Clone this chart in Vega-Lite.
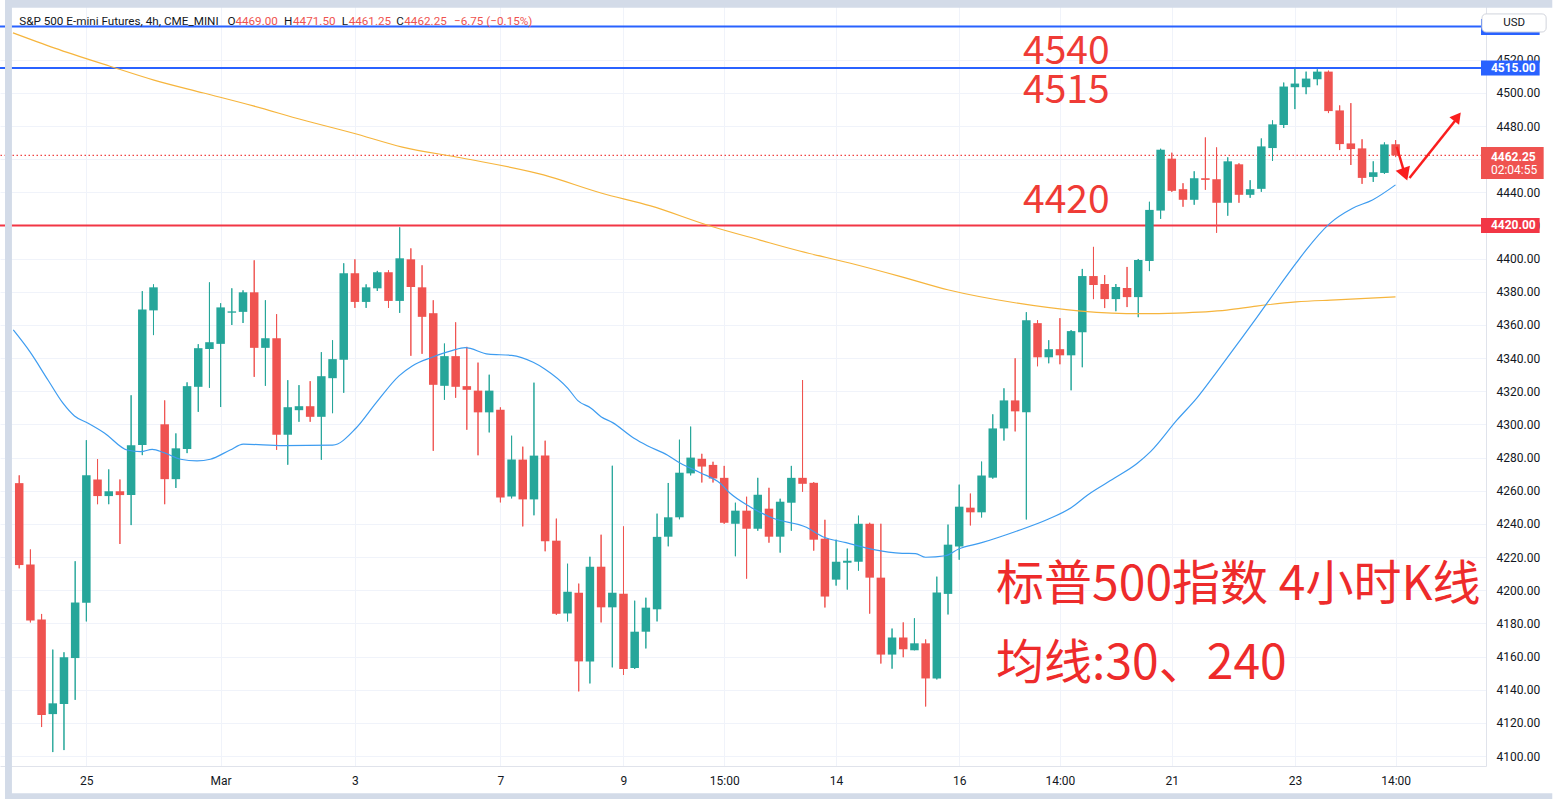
{
 "$schema": "https://vega.github.io/schema/vega-lite/v6.json",
 "width": 1486, "height": 766, "autosize": "none", "padding": {"left": 0, "top": 0, "right": 70, "bottom": 33},
 "background": "#ffffff",
 "config": {"view": {"stroke": null}},
 "data": {"values": [{}]},
 "resolve": {"axis": {"x": "independent", "y": "independent"}},
 "datasets": {
  "candles": [
   {"i":0,"o":4264.6,"h":4269.3,"l":4213.2,"c":4215.2},{"i":1,"o":4215.6,"h":4224.6,"l":4180.6,"c":4181.8},{"i":2,"o":4182.4,"h":4185.7,"l":4117.5,"c":4124.7},{"i":3,"o":4125.3,"h":4164.2,"l":4102.4,"c":4131.8},{"i":4,"o":4131.4,"h":4162.6,"l":4103.6,"c":4159.6},{"i":5,"o":4159.1,"h":4217.5,"l":4133.9,"c":4192.6},{"i":6,"o":4192.4,"h":4290.5,"l":4181.2,"c":4269.3},{"i":7,"o":4266.8,"h":4279.1,"l":4251.9,"c":4256.8},{"i":8,"o":4256.8,"h":4272.9,"l":4251.9,"c":4259.7},{"i":9,"o":4259.7,"h":4266.8,"l":4227.9,"c":4257.4},
   {"i":10,"o":4257.4,"h":4317.6,"l":4239.3,"c":4287.4},{"i":11,"o":4287.6,"h":4380.4,"l":4281.5,"c":4369.4},{"i":12,"o":4368.8,"h":4384.5,"l":4353.9,"c":4382.7},{"i":13,"o":4300.1,"h":4314.5,"l":4251.9,"c":4267.0},{"i":14,"o":4267.0,"h":4294.6,"l":4261.7,"c":4285.6},{"i":15,"o":4285.2,"h":4325.4,"l":4282.7,"c":4323.1},{"i":16,"o":4322.7,"h":4348.4,"l":4307.6,"c":4346.0},{"i":17,"o":4345.5,"h":4385.7,"l":4322.1,"c":4349.6},{"i":18,"o":4348.6,"h":4373.1,"l":4310.5,"c":4370.6},{"i":19,"o":4367.4,"h":4382.1,"l":4360.0,"c":4368.2},
   {"i":20,"o":4367.9,"h":4380.9,"l":4361.2,"c":4379.7},{"i":21,"o":4379.7,"h":4399.0,"l":4328.7,"c":4346.2},{"i":22,"o":4346.2,"h":4374.9,"l":4323.3,"c":4352.0},{"i":23,"o":4352.0,"h":4366.5,"l":4284.7,"c":4293.8},{"i":24,"o":4293.8,"h":4326.7,"l":4275.7,"c":4310.4},{"i":25,"o":4308.6,"h":4323.7,"l":4301.6,"c":4311.0},{"i":26,"o":4311.0,"h":4326.1,"l":4301.6,"c":4304.6},{"i":27,"o":4304.6,"h":4343.6,"l":4278.7,"c":4329.1},{"i":28,"o":4327.9,"h":4350.8,"l":4306.8,"c":4339.4},{"i":29,"o":4339.0,"h":4397.2,"l":4319.1,"c":4391.2},
   {"i":30,"o":4391.2,"h":4399.6,"l":4370.3,"c":4373.9},{"i":31,"o":4373.9,"h":4384.5,"l":4370.3,"c":4382.7},{"i":32,"o":4382.1,"h":4392.6,"l":4380.5,"c":4391.8},{"i":33,"o":4391.8,"h":4393.0,"l":4370.3,"c":4374.5},{"i":34,"o":4374.5,"h":4418.9,"l":4367.3,"c":4400.2},{"i":35,"o":4399.6,"h":4406.2,"l":4341.4,"c":4382.9},{"i":36,"o":4382.7,"h":4396.0,"l":4342.6,"c":4364.9},{"i":37,"o":4367.1,"h":4374.9,"l":4284.1,"c":4323.9},{"i":38,"o":4323.3,"h":4348.8,"l":4314.9,"c":4341.2},{"i":39,"o":4341.2,"h":4361.6,"l":4316.1,"c":4322.7},
   {"i":40,"o":4323.1,"h":4346.8,"l":4296.8,"c":4320.9},{"i":41,"o":4320.4,"h":4337.3,"l":4281.4,"c":4307.3},{"i":42,"o":4307.3,"h":4330.0,"l":4295.2,"c":4320.4},{"i":43,"o":4308.9,"h":4310.3,"l":4253.0,"c":4256.0},{"i":44,"o":4256.6,"h":4293.2,"l":4255.4,"c":4278.8},{"i":45,"o":4278.8,"h":4286.6,"l":4238.5,"c":4254.8},{"i":46,"o":4254.8,"h":4325.2,"l":4245.2,"c":4281.2},{"i":47,"o":4281.2,"h":4290.2,"l":4223.5,"c":4229.5},{"i":48,"o":4229.9,"h":4243.2,"l":4185.2,"c":4185.8},{"i":49,"o":4186.0,"h":4216.0,"l":4181.2,"c":4199.1},
   {"i":50,"o":4198.5,"h":4204.0,"l":4139.0,"c":4157.1},{"i":51,"o":4157.1,"h":4220.2,"l":4143.8,"c":4214.2},{"i":52,"o":4214.2,"h":4233.5,"l":4180.6,"c":4189.7},{"i":53,"o":4189.7,"h":4275.1,"l":4153.5,"c":4198.5},{"i":54,"o":4197.9,"h":4238.5,"l":4148.9,"c":4152.5},{"i":55,"o":4153.1,"h":4193.7,"l":4152.5,"c":4175.0},{"i":56,"o":4175.0,"h":4195.5,"l":4164.9,"c":4189.5},{"i":57,"o":4188.5,"h":4246.2,"l":4181.2,"c":4232.2},{"i":58,"o":4232.3,"h":4264.7,"l":4226.5,"c":4244.0},{"i":59,"o":4244.0,"h":4290.8,"l":4242.8,"c":4270.9},
   {"i":60,"o":4270.5,"h":4298.7,"l":4269.3,"c":4280.0},{"i":61,"o":4279.3,"h":4282.3,"l":4265.0,"c":4274.6},{"i":62,"o":4275.6,"h":4277.5,"l":4265.0,"c":4267.4},{"i":63,"o":4267.8,"h":4275.0,"l":4240.1,"c":4240.7},{"i":64,"o":4240.1,"h":4252.8,"l":4220.5,"c":4248.0},{"i":65,"o":4248.0,"h":4256.4,"l":4207.0,"c":4237.1},{"i":66,"o":4237.1,"h":4267.8,"l":4235.9,"c":4257.6},{"i":67,"o":4249.2,"h":4261.8,"l":4228.7,"c":4232.3},{"i":68,"o":4232.3,"h":4255.2,"l":4222.7,"c":4253.4},{"i":69,"o":4252.8,"h":4275.0,"l":4235.9,"c":4267.8},
   {"i":70,"o":4267.8,"h":4326.8,"l":4259.4,"c":4264.2},{"i":71,"o":4264.8,"h":4265.2,"l":4223.9,"c":4230.5},{"i":72,"o":4231.1,"h":4242.5,"l":4189.6,"c":4196.2},{"i":73,"o":4206.4,"h":4230.5,"l":4202.8,"c":4217.2},{"i":74,"o":4216.6,"h":4225.1,"l":4200.4,"c":4217.8},{"i":75,"o":4217.2,"h":4245.0,"l":4211.8,"c":4240.1},{"i":76,"o":4240.1,"h":4240.7,"l":4185.9,"c":4207.6},{"i":77,"o":4207.6,"h":4240.1,"l":4155.8,"c":4161.2},{"i":78,"o":4161.2,"h":4176.9,"l":4152.7,"c":4171.5},{"i":79,"o":4171.5,"h":4180.6,"l":4159.6,"c":4164.4},
   {"i":80,"o":4163.8,"h":4183.1,"l":4163.8,"c":4168.0},{"i":81,"o":4168.0,"h":4170.3,"l":4129.9,"c":4146.8},{"i":82,"o":4146.8,"h":4208.2,"l":4146.2,"c":4198.6},{"i":83,"o":4197.8,"h":4239.6,"l":4185.4,"c":4227.5},{"i":84,"o":4226.4,"h":4263.7,"l":4218.4,"c":4250.4},{"i":85,"o":4249.8,"h":4258.3,"l":4239.1,"c":4247.0},{"i":86,"o":4247.0,"h":4277.6,"l":4243.9,"c":4269.2},{"i":87,"o":4267.9,"h":4306.1,"l":4267.3,"c":4297.6},{"i":88,"o":4297.6,"h":4321.8,"l":4290.3,"c":4314.5},{"i":89,"o":4314.5,"h":4339.9,"l":4295.8,"c":4307.9},
   {"i":90,"o":4307.3,"h":4367.7,"l":4242.7,"c":4362.9},{"i":91,"o":4361.1,"h":4362.9,"l":4335.1,"c":4340.5},{"i":92,"o":4340.5,"h":4350.8,"l":4336.9,"c":4345.4},{"i":93,"o":4345.4,"h":4364.1,"l":4336.3,"c":4341.7},{"i":94,"o":4341.7,"h":4356.9,"l":4320.6,"c":4356.3},{"i":95,"o":4355.6,"h":4393.8,"l":4334.5,"c":4389.5},{"i":96,"o":4389.5,"h":4407.1,"l":4375.6,"c":4384.1},{"i":97,"o":4384.7,"h":4390.1,"l":4370.2,"c":4375.6},{"i":98,"o":4375.6,"h":4384.7,"l":4368.3,"c":4382.9},{"i":99,"o":4382.3,"h":4395.0,"l":4370.8,"c":4376.8},
   {"i":100,"o":4376.8,"h":4399.8,"l":4364.7,"c":4399.2},{"i":101,"o":4398.6,"h":4434.3,"l":4392.5,"c":4429.4},{"i":102,"o":4429.0,"h":4466.3,"l":4424.0,"c":4465.7},{"i":103,"o":4460.3,"h":4463.9,"l":4440.3,"c":4440.9},{"i":104,"o":4441.9,"h":4445.5,"l":4431.3,"c":4435.5},{"i":105,"o":4435.5,"h":4452.7,"l":4432.5,"c":4448.5},{"i":106,"o":4448.5,"h":4473.1,"l":4441.5,"c":4447.5},{"i":107,"o":4447.9,"h":4467.1,"l":4415.6,"c":4433.7},{"i":108,"o":4433.7,"h":4461.1,"l":4425.9,"c":4458.7},{"i":109,"o":4456.9,"h":4457.5,"l":4433.7,"c":4438.5},
   {"i":110,"o":4438.5,"h":4447.3,"l":4436.7,"c":4441.9},{"i":111,"o":4442.1,"h":4472.5,"l":4440.3,"c":4467.7},{"i":112,"o":4466.7,"h":4483.4,"l":4458.9,"c":4481.0},{"i":113,"o":4480.6,"h":4506.2,"l":4478.8,"c":4503.8},{"i":114,"o":4503.4,"h":4514.6,"l":4490.2,"c":4505.6},{"i":115,"o":4503.4,"h":4512.8,"l":4499.2,"c":4508.6},{"i":116,"o":4508.2,"h":4514.2,"l":4504.6,"c":4512.8},{"i":117,"o":4512.8,"h":4513.4,"l":4487.8,"c":4489.0},{"i":118,"o":4489.4,"h":4492.4,"l":4465.5,"c":4469.1},{"i":119,"o":4469.5,"h":4493.8,"l":4456.5,"c":4466.1},
   {"i":120,"o":4466.5,"h":4472.0,"l":4445.1,"c":4448.7},{"i":121,"o":4449.3,"h":4458.7,"l":4446.3,"c":4452.1},{"i":122,"o":4451.7,"h":4470.1,"l":4451.1,"c":4468.9},{"i":123,"o":4469.0,"h":4471.5,"l":4461.25,"c":4462.25}
  ],
  "ma30": [
   {"i":-0.53,"v":4357.0},{"i":0.95,"v":4343.9},{"i":2.57,"v":4326.8},{"i":3.91,"v":4312.8},{"i":4.94,"v":4305.1},{"i":6.12,"v":4300.9},{"i":7.61,"v":4294.9},{"i":9.65,"v":4284.6},{"i":10.86,"v":4283.6},{"i":11.89,"v":4285.0},{"i":12.93,"v":4283.0},{"i":14.42,"v":4279.0},{"i":15.89,"v":4278.0},{"i":17.08,"v":4279.0},{"i":18.85,"v":4284.6},{"i":20.03,"v":4288.1},{"i":23.58,"v":4287.2},{"i":28.02,"v":4287.5},{"i":30.09,"v":4297.7},{"i":31.87,"v":4312.8},{"i":33.94,"v":4329.3},{"i":35.12,"v":4335.3},{"i":36.9,"v":4340.5},{"i":38.67,"v":4344.5},{"i":39.85,"v":4346.3},{"i":41.93,"v":4342.4},{"i":44.0,"v":4341.7},{"i":45.93,"v":4337.5},{"i":46.96,"v":4333.5},{"i":49.03,"v":4321.8},{"i":49.92,"v":4314.4},{"i":51.1,"v":4309.8},{"i":51.99,"v":4304.7},{"i":53.03,"v":4301.1},{"i":54.94,"v":4291.7},{"i":56.13,"v":4287.2},{"i":57.91,"v":4281.6},{"i":59.09,"v":4276.6},{"i":60.86,"v":4270.9},{"i":62.64,"v":4264.5},{"i":63.53,"v":4258.5},{"i":65.3,"v":4250.4},{"i":67.37,"v":4243.4},{"i":70.34,"v":4238.0},{"i":71.81,"v":4232.3},{"i":73.89,"v":4228.7},{"i":76.25,"v":4224.7},{"i":78.91,"v":4222.3},{"i":80.1,"v":4222.1},{"i":81.0,"v":4219.9},{"i":82.77,"v":4220.8},{"i":83.95,"v":4224.9},{"i":86.01,"v":4228.7},{"i":88.98,"v":4235.3},{"i":91.93,"v":4242.8},{"i":94.0,"v":4249.8},{"i":95.48,"v":4257.5},{"i":97.85,"v":4267.5},{"i":99.92,"v":4276.6},{"i":101.1,"v":4283.6},{"i":103.47,"v":4302.7},{"i":105.25,"v":4316.0},{"i":107.02,"v":4331.7},{"i":108.8,"v":4348.0},{"i":110.57,"v":4364.3},{"i":112.35,"v":4381.1},{"i":114.12,"v":4397.4},{"i":115.01,"v":4405.3},{"i":117.08,"v":4421.0},{"i":119.16,"v":4430.4},{"i":120.93,"v":4435.4},{"i":122.99,"v":4444.5}
  ],
  "ma240": [
   {"i":-0.56,"v":4536.2},{"i":3.17,"v":4527.0},{"i":8.05,"v":4516.2},{"i":12.04,"v":4507.7},{"i":16.48,"v":4499.9},{"i":20.92,"v":4492.1},{"i":25.36,"v":4483.6},{"i":29.8,"v":4475.8},{"i":34.24,"v":4467.3},{"i":39.56,"v":4460.7},{"i":46.86,"v":4450.5},{"i":51.99,"v":4439.6},{"i":56.43,"v":4431.8},{"i":61.75,"v":4419.7},{"i":66.19,"v":4411.2},{"i":69.74,"v":4404.6},{"i":74.2,"v":4397.4},{"i":78.62,"v":4389.5},{"i":83.06,"v":4381.1},{"i":88.98,"v":4373.4},{"i":94.88,"v":4368.4},{"i":100.2,"v":4366.8},{"i":103.47,"v":4367.2},{"i":107.91,"v":4369.0},{"i":110.57,"v":4371.4},{"i":114.12,"v":4373.9},{"i":117.67,"v":4375.1},{"i":122.99,"v":4376.9}
  ]
 },
 "layer": [
  {
   "data": {"name": "candles"},
   "mark": {"type": "rule", "strokeWidth": 1},
   "encoding": {
    "x": {"field": "i", "type": "quantitative", "title": null, "scale": {"domain": [-1.27, 130.63], "nice": false, "zero": false},
     "axis": {"orient": "bottom", "title": null, "values": [6, 18, 30, 43, 54, 63, 73, 84, 93, 103, 114, 123],
      "labelExpr": "datum.value==6?'25':datum.value==18?'Mar':datum.value==30?'3':datum.value==43?'7':datum.value==54?'9':datum.value==63?'15:00':datum.value==73?'14':datum.value==84?'16':datum.value==93?'14:00':datum.value==103?'21':datum.value==114?'23':'14:00'",
      "grid": true, "gridColor": "#f0f3fa", "gridWidth": 1, "ticks": false, "domain": true, "domainColor": "#e0e3eb", "labelPadding": 9, "labelFont": "Roboto", "labelFontSize": 12, "labelColor": "#131722", "labelFlush": false, "labelOverlap": false}},
    "y": {"field": "l", "type": "quantitative", "title": null, "scale": {"domain": [4094, 4556], "nice": false, "zero": false},
     "axis": {"orient": "right", "title": null, "values": [4100, 4120, 4140, 4160, 4180, 4200, 4220, 4240, 4260, 4280, 4300, 4320, 4340, 4360, 4380, 4400, 4420, 4440, 4460, 4480, 4500, 4520],
      "format": ".2f", "grid": true, "gridColor": "#f0f3fa", "gridWidth": 1, "ticks": false, "domain": true, "domainColor": "#e0e3eb", "labelPadding": 10, "labelFont": "Roboto", "labelFontSize": 12, "labelColor": "#131722", "labelFlush": false, "labelOverlap": false}},
    "y2": {"field": "h"},
    "color": {"condition": {"test": "datum.c >= datum.o", "value": "#26a69a"}, "value": "#ef5350"}
   }
  },
  {"mark": {"type": "rule", "color": "#2962ff", "strokeWidth": 2}, "encoding": {"y": {"datum": 4540, "type": "quantitative", "axis": null}}},
  {"mark": {"type": "rule", "color": "#2962ff", "strokeWidth": 2}, "encoding": {"y": {"datum": 4515, "type": "quantitative", "axis": null}}},
  {"mark": {"type": "rule", "color": "#f23645", "strokeWidth": 2}, "encoding": {"y": {"datum": 4420, "type": "quantitative", "axis": null}}},
  {"mark": {"type": "rule", "color": "#ef4444", "strokeWidth": 1.3, "strokeDash": [1.5, 2.5]}, "encoding": {"y": {"datum": 4462.25, "type": "quantitative", "axis": null}}},
  {
   "data": {"name": "candles"},
   "mark": {"type": "rule", "strokeWidth": 1},
   "encoding": {
    "x": {"field": "i", "type": "quantitative", "axis": null},
    "y": {"field": "l", "type": "quantitative", "axis": null},
    "y2": {"field": "h"},
    "color": {"condition": {"test": "datum.c >= datum.o", "value": "#26a69a"}, "value": "#ef5350"}
   }
  },
  {
   "data": {"name": "candles"},
   "mark": {"type": "bar", "size": 8.5},
   "encoding": {
    "x": {"field": "i", "type": "quantitative", "axis": null},
    "y": {"field": "o", "type": "quantitative", "axis": null},
    "y2": {"field": "c"},
    "color": {"condition": {"test": "datum.c >= datum.o", "value": "#26a69a"}, "value": "#ef5350"}
   }
  },
  {"data": {"name": "ma240"}, "mark": {"type": "line", "color": "#f6b53d", "strokeWidth": 1.2, "interpolate": "monotone"}, "encoding": {"x": {"field": "i", "type": "quantitative", "axis": null}, "y": {"field": "v", "type": "quantitative", "axis": null}}},
  {"data": {"name": "ma30"}, "mark": {"type": "line", "color": "#3d9cf0", "strokeWidth": 1.2, "interpolate": "monotone"}, "encoding": {"x": {"field": "i", "type": "quantitative", "axis": null}, "y": {"field": "v", "type": "quantitative", "axis": null}}},

  {"mark": {"type": "text", "text": "4540", "align": "left", "baseline": "alphabetic", "font": "Noto Sans CJK SC", "fontSize": 39, "color": "#ef3b36"}, "encoding": {"x": {"datum": 89.7, "type": "quantitative", "axis": null}, "y": {"datum": 4517.2, "type": "quantitative", "axis": null}}},
  {"mark": {"type": "text", "text": "4515", "align": "left", "baseline": "alphabetic", "font": "Noto Sans CJK SC", "fontSize": 39, "color": "#ef3b36"}, "encoding": {"x": {"datum": 89.7, "type": "quantitative", "axis": null}, "y": {"datum": 4494.1, "type": "quantitative", "axis": null}}},
  {"mark": {"type": "text", "text": "4420", "align": "left", "baseline": "alphabetic", "font": "Noto Sans CJK SC", "fontSize": 39, "color": "#ef3b36"}, "encoding": {"x": {"datum": 89.7, "type": "quantitative", "axis": null}, "y": {"datum": 4427.7, "type": "quantitative", "axis": null}}},
  {"mark": {"type": "text", "text": "标普500指数 4小时K线", "align": "left", "baseline": "alphabetic", "font": "Noto Sans CJK SC", "fontSize": 48, "color": "#ee2b2b"}, "encoding": {"x": {"datum": 87.3, "type": "quantitative", "axis": null}, "y": {"datum": 4194.1, "type": "quantitative", "axis": null}}},
  {"mark": {"type": "text", "text": "均线:30、240", "align": "left", "baseline": "alphabetic", "font": "Noto Sans CJK SC", "fontSize": 48, "color": "#ee2b2b"}, "encoding": {"x": {"datum": 87.3, "type": "quantitative", "axis": null}, "y": {"datum": 4146.5, "type": "quantitative", "axis": null}}},

  {"mark": {"type": "text", "text": "S&P 500 E-mini Futures, 4h, CME_MINI", "align": "left", "baseline": "alphabetic", "font": "Roboto", "fontSize": 11.7, "color": "#131722"}, "encoding": {"x": {"datum": 0.0, "type": "quantitative", "axis": null}, "y": {"datum": 4541.2, "type": "quantitative", "axis": null}}},
  {"mark": {"type": "text", "text": "O", "align": "left", "baseline": "alphabetic", "font": "Roboto", "fontSize": 11.7, "color": "#131722"}, "encoding": {"x": {"datum": 18.61, "type": "quantitative", "axis": null}, "y": {"datum": 4541.2, "type": "quantitative", "axis": null}}},
  {"mark": {"type": "text", "text": "4469.00", "align": "left", "baseline": "alphabetic", "font": "Roboto", "fontSize": 11.7, "color": "#ef5350"}, "encoding": {"x": {"datum": 19.32, "type": "quantitative", "axis": null}, "y": {"datum": 4541.2, "type": "quantitative", "axis": null}}},
  {"mark": {"type": "text", "text": "H", "align": "left", "baseline": "alphabetic", "font": "Roboto", "fontSize": 11.7, "color": "#131722"}, "encoding": {"x": {"datum": 23.67, "type": "quantitative", "axis": null}, "y": {"datum": 4541.2, "type": "quantitative", "axis": null}}},
  {"mark": {"type": "text", "text": "4471.50", "align": "left", "baseline": "alphabetic", "font": "Roboto", "fontSize": 11.7, "color": "#ef5350"}, "encoding": {"x": {"datum": 24.47, "type": "quantitative", "axis": null}, "y": {"datum": 4541.2, "type": "quantitative", "axis": null}}},
  {"mark": {"type": "text", "text": "L", "align": "left", "baseline": "alphabetic", "font": "Roboto", "fontSize": 11.7, "color": "#131722"}, "encoding": {"x": {"datum": 28.82, "type": "quantitative", "axis": null}, "y": {"datum": 4541.2, "type": "quantitative", "axis": null}}},
  {"mark": {"type": "text", "text": "4461.25", "align": "left", "baseline": "alphabetic", "font": "Roboto", "fontSize": 11.7, "color": "#ef5350"}, "encoding": {"x": {"datum": 29.44, "type": "quantitative", "axis": null}, "y": {"datum": 4541.2, "type": "quantitative", "axis": null}}},
  {"mark": {"type": "text", "text": "C", "align": "left", "baseline": "alphabetic", "font": "Roboto", "fontSize": 11.7, "color": "#131722"}, "encoding": {"x": {"datum": 33.7, "type": "quantitative", "axis": null}, "y": {"datum": 4541.2, "type": "quantitative", "axis": null}}},
  {"mark": {"type": "text", "text": "4462.25", "align": "left", "baseline": "alphabetic", "font": "Roboto", "fontSize": 11.7, "color": "#ef5350"}, "encoding": {"x": {"datum": 34.41, "type": "quantitative", "axis": null}, "y": {"datum": 4541.2, "type": "quantitative", "axis": null}}},
  {"mark": {"type": "text", "text": "−6.75 (−0.15%)", "align": "left", "baseline": "alphabetic", "font": "Roboto", "fontSize": 11.7, "color": "#ef5350"}, "encoding": {"x": {"datum": 38.85, "type": "quantitative", "axis": null}, "y": {"datum": 4541.2, "type": "quantitative", "axis": null}}},

  {"mark": {"type": "rule", "color": "#fa1e1e", "strokeWidth": 2.5}, "encoding": {"x": {"datum": 124.24, "type": "quantitative", "axis": null}, "y": {"datum": 4448.6, "type": "quantitative", "axis": null}, "x2": {"datum": 128.6}, "y2": {"datum": 4485.6}}},
  {"mark": {"type": "point", "shape": "triangle-up", "filled": true, "color": "#fa1e1e", "opacity": 1, "size": 150, "angle": 38}, "encoding": {"x": {"datum": 128.53, "type": "quantitative", "axis": null}, "y": {"datum": 4485.6, "type": "quantitative", "axis": null}}},
  {"mark": {"type": "rule", "color": "#fa1e1e", "strokeWidth": 2.5}, "encoding": {"x": {"datum": 123.1, "type": "quantitative", "axis": null}, "y": {"datum": 4467.5, "type": "quantitative", "axis": null}, "x2": {"datum": 123.75}, "y2": {"datum": 4452.5}}},
  {"mark": {"type": "point", "shape": "triangle-up", "filled": true, "color": "#fa1e1e", "opacity": 1, "size": 230, "angle": 160}, "encoding": {"x": {"datum": 123.84, "type": "quantitative", "axis": null}, "y": {"datum": 4450.8, "type": "quantitative", "axis": null}}},

  {"mark": {"type": "rect", "color": "#2962ff"}, "encoding": {"x": {"datum": 130.63, "type": "quantitative", "axis": null}, "x2": {"datum": 135.87}, "y": {"datum": 4544.5, "type": "quantitative", "axis": null}, "y2": {"datum": 4534.9}}},
  {"mark": {"type": "rect", "fill": "#ffffff", "stroke": "#d1d4dc", "strokeWidth": 1, "cornerRadius": 4}, "encoding": {"x": {"datum": 130.72, "type": "quantitative", "axis": null}, "x2": {"datum": 136.45}, "y": {"datum": 4547.6, "type": "quantitative", "axis": null}, "y2": {"datum": 4536.7}}},
  {"mark": {"type": "text", "text": "USD", "align": "center", "baseline": "middle", "font": "Roboto", "fontSize": 11.5, "color": "#131722"}, "encoding": {"x": {"datum": 133.6, "type": "quantitative", "axis": null}, "y": {"datum": 4542.1, "type": "quantitative", "axis": null}}},
  {"mark": {"type": "rect", "color": "#2962ff"}, "encoding": {"x": {"datum": 130.63, "type": "quantitative", "axis": null}, "x2": {"datum": 135.87}, "y": {"datum": 4519.5, "type": "quantitative", "axis": null}, "y2": {"datum": 4510.5}}},
  {"mark": {"type": "text", "text": "4515.00", "align": "left", "baseline": "middle", "font": "Roboto", "fontSize": 12, "fontWeight": "bold", "color": "#ffffff"}, "encoding": {"x": {"datum": 131.52, "type": "quantitative", "axis": null}, "y": {"datum": 4515, "type": "quantitative", "axis": null}}},
  {"mark": {"type": "rect", "color": "#ef5350"}, "encoding": {"x": {"datum": 130.63, "type": "quantitative", "axis": null}, "x2": {"datum": 136.23}, "y": {"datum": 4467.3, "type": "quantitative", "axis": null}, "y2": {"datum": 4448.0}}},
  {"mark": {"type": "text", "text": "4462.25", "align": "left", "baseline": "middle", "font": "Roboto", "fontSize": 12, "fontWeight": "bold", "color": "#ffffff"}, "encoding": {"x": {"datum": 131.52, "type": "quantitative", "axis": null}, "y": {"datum": 4461.6, "type": "quantitative", "axis": null}}},
  {"mark": {"type": "text", "text": "02:04:55", "align": "left", "baseline": "middle", "font": "Roboto", "fontSize": 12, "color": "#ffffff"}, "encoding": {"x": {"datum": 131.52, "type": "quantitative", "axis": null}, "y": {"datum": 4453.3, "type": "quantitative", "axis": null}}},
  {"mark": {"type": "rect", "color": "#f23645"}, "encoding": {"x": {"datum": 130.63, "type": "quantitative", "axis": null}, "x2": {"datum": 135.87}, "y": {"datum": 4424.5, "type": "quantitative", "axis": null}, "y2": {"datum": 4415.5}}},
  {"mark": {"type": "text", "text": "4420.00", "align": "left", "baseline": "middle", "font": "Roboto", "fontSize": 12, "fontWeight": "bold", "color": "#ffffff"}, "encoding": {"x": {"datum": 131.52, "type": "quantitative", "axis": null}, "y": {"datum": 4420, "type": "quantitative", "axis": null}}},

  {"mark": {"type": "rect", "color": "#d3dbe8"}, "encoding": {"x": {"datum": -1.27, "type": "quantitative", "axis": null}, "x2": {"datum": -0.65}, "y": {"datum": 4556, "type": "quantitative", "axis": null}, "y2": {"datum": 4074}}},
  {"mark": {"type": "rect", "color": "#d3dbe8"}, "encoding": {"x": {"datum": -1.27, "type": "quantitative", "axis": null}, "x2": {"datum": 137}, "y": {"datum": 4556, "type": "quantitative", "axis": null}, "y2": {"datum": 4551.4}}},
  {"mark": {"type": "rect", "color": "#d3dbe8"}, "encoding": {"x": {"datum": -1.27, "type": "quantitative", "axis": null}, "x2": {"datum": 137}, "y": {"datum": 4077.6, "type": "quantitative", "axis": null}, "y2": {"datum": 4074}}}
 ]
}
